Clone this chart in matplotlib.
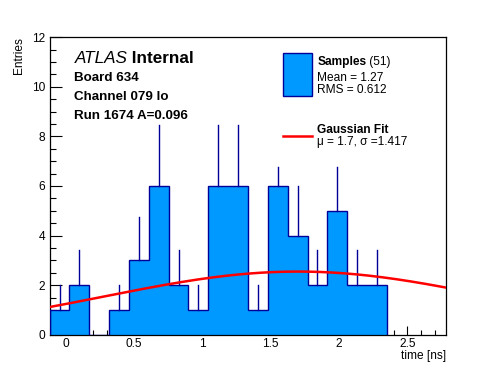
import matplotlib
matplotlib.use("Agg")
import matplotlib.pyplot as plt
from matplotlib.patches import Rectangle
from matplotlib.lines import Line2D
from matplotlib.ticker import MultipleLocator, FixedFormatter, FixedLocator
import numpy as np

plt.rcParams["font.family"] = ["Liberation Sans", "DejaVu Sans"]

# Histogram data (20 bins over the axis range)
x_min, x_max = -0.118, 2.786
counts = [1, 2, 0, 1, 3, 6, 2, 1, 6, 6, 1, 6, 4, 2, 5, 2, 2, 0, 0, 0]
err_up = [1, 1.414, 0, 1, 1.732, 2.449, 1.414, 1, 2.449, 2.449,
          1, 0.77, 2, 1.414, 1.77, 1.414, 1.414, 0, 0, 0]

# Stats / fit parameters
n_entries = 51
mean = 1.27
rms = 0.612
fit_mu = 1.7
fit_sigma = 1.417
fit_amp = 2.55

x_ticks = [0, 0.5, 1, 1.5, 2, 2.5]
x_tick_labels = ["0", "0.5", "1", "1.5", "2", "2.5"]
y_ticks = [0, 2, 4, 6, 8, 10, 12]

fill_col = "#0099ff"
edge_col = "#000099"

W, H = 496, 372
fig = plt.figure(figsize=(W / 100, H / 100), dpi=100)
ax = fig.add_axes([0.1, 0.1, 0.8, 0.8])

edges = np.linspace(x_min, x_max, len(counts) + 1)
centers = 0.5 * (edges[:-1] + edges[1:])
counts = np.array(counts, dtype=float)
err_up = np.array(err_up)

# Histogram fill + outline
ax.stairs(counts, edges, fill=True, facecolor=fill_col, edgecolor="none", zorder=2)
last = np.nonzero(counts)[0].max() + 1
ax.stairs(counts[:last], edges[:last + 1], baseline=0, color=edge_col,
          linewidth=1.0, zorder=3)

# Error bars (upper part only visible)
for c, n, e in zip(centers, counts, err_up):
    if n > 0:
        ax.plot([c, c], [n, n + e], color=edge_col, linewidth=1.0, zorder=3)

# Gaussian fit
xf = np.linspace(x_min, x_max, 200)
yf = fit_amp * np.exp(-0.5 * ((xf - fit_mu) / fit_sigma) ** 2)
ax.plot(xf, yf, color="red", linewidth=1.8, zorder=4)

ax.set_xlim(x_min, x_max)
ax.set_ylim(0, 12)

ax.xaxis.set_major_locator(FixedLocator(x_ticks))
ax.xaxis.set_major_formatter(FixedFormatter(x_tick_labels))
ax.xaxis.set_minor_locator(MultipleLocator(0.1))
ax.yaxis.set_major_locator(FixedLocator(y_ticks))
ax.yaxis.set_minor_locator(MultipleLocator(0.5))

ax.tick_params(axis="both", which="both", direction="in", top=False, right=False,
               labelsize=8.6, width=0.8)
ax.tick_params(axis="x", which="major", length=6.4, pad=2.2)
ax.tick_params(axis="x", which="minor", length=3.3)
ax.tick_params(axis="y", which="major", length=8.6, pad=3)
ax.tick_params(axis="y", which="minor", length=4.2)
for s in ax.spines.values():
    s.set_linewidth(0.9)


def fx(px):
    return px / W


def fy(py):
    return 1 - py / H


# Axis titles
fig.text(fx(18.7), fy(36.7), "Entries", rotation=90, ha="center", va="top", fontsize=8.6)
fig.text(fx(446.4), fy(355.5), "time [ns]", ha="right", va="center", fontsize=8.6)

# ATLAS label
t1 = fig.text(fx(74.5), fy(63.3), "ATLAS", fontstyle="italic", fontsize=12.3, va="baseline")
fig.canvas.draw()
r = fig.canvas.get_renderer()
bb = t1.get_window_extent(r)
fig.text(bb.x1 / W, fy(63.3), " Internal", fontweight="bold", fontsize=12.3, va="baseline")
fig.text(fx(74.5), fy(81), "Board 634", fontweight="bold", fontsize=9.6, va="baseline")
fig.text(fx(74.5), fy(100.3), "Channel 079 lo", fontweight="bold", fontsize=9.6, va="baseline")
fig.text(fx(74.5), fy(119.3), "Run 1674 A=0.096", fontweight="bold", fontsize=9.6, va="baseline")

# Legend (drawn by hand, ROOT style)
fig.patches.append(Rectangle((fx(283.3), fy(96.3)), (311.7 - 283.3) / W, (96.3 - 53.3) / H,
                             transform=fig.transFigure, facecolor=fill_col,
                             edgecolor=edge_col, linewidth=1.0))
t2 = fig.text(fx(317.3), fy(65.3), "Samples", fontweight="bold", fontsize=8.6, va="baseline")
fig.canvas.draw()
bb2 = t2.get_window_extent(fig.canvas.get_renderer())
fig.text(bb2.x1 / W, fy(65.3), f" ({n_entries})", fontsize=8.6, va="baseline")
fig.text(fx(317.3), fy(81), f"Mean = {mean}", fontsize=8.6, va="baseline")
fig.text(fx(317.3), fy(93.3), f"RMS = {rms}", fontsize=8.6, va="baseline")

fig.lines.append(Line2D([fx(283.3), fx(311.7)], [fy(135.7), fy(135.7)],
                        transform=fig.transFigure, color="red", linewidth=1.8))
fig.text(fx(317.3), fy(132.7), "Gaussian Fit", fontweight="bold", fontsize=8.6, va="baseline")
fig.text(fx(317.3), fy(145), f"\u03bc = {fit_mu}, \u03c3 ={fit_sigma}", fontsize=8.6, va="baseline")

fig.savefig("out.png", dpi=100)
